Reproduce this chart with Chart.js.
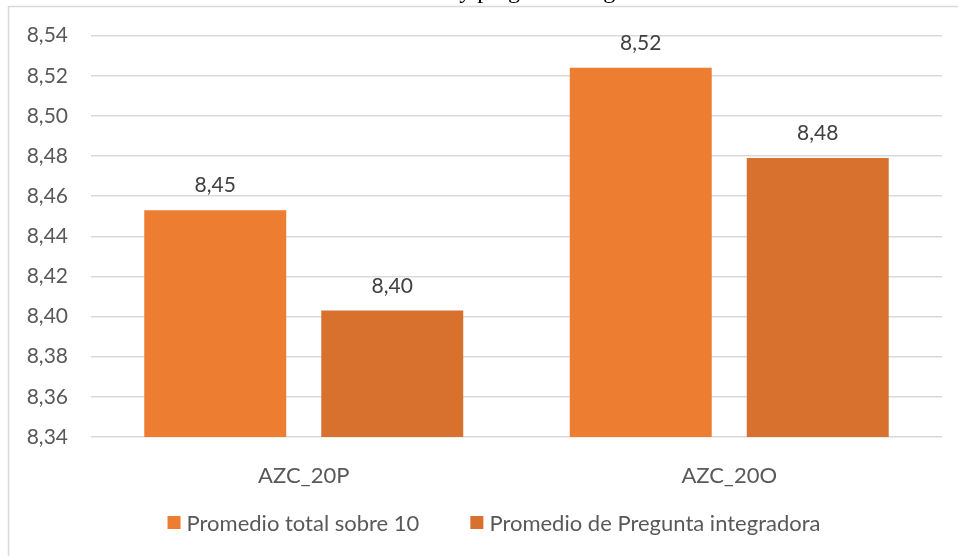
<!DOCTYPE html>
<html>
<head>
<meta charset="utf-8">
<script src="https://cdn.jsdelivr.net/npm/chart.js@4.4.0/dist/chart.umd.min.js"></script>
<style>
  html, body { margin:0; padding:0; background:#fff; }
  #wrap { position:relative; width:958px; height:556px; }
</style>
</head>
<body>
<div id="wrap"><canvas id="c" width="958" height="556"></canvas></div>
<script>
'use strict';

// ── Data ──────────────────────────────────────────────────────────────────────
var TITLE      = 'Promedio total y pregunta integradora';
var categories = ['AZC_20P', 'AZC_20O'];
var seriesNames = ['Promedio total sobre 10', 'Promedio de Pregunta integradora'];
var promTotal  = [8.453, 8.524];
var promPreg   = [8.403, 8.479];
var yMin = 8.34, yMax = 8.54, yStep = 0.02;

var COLORS = ['#ED7D31', '#D8712D'];
var FONT   = 'Lato, "Noto Sans", sans-serif';

function fmt(v) { return v.toFixed(2).replace('.', ','); }

// ── Frame, title, value labels, legend ───────────────────────────────────────
var decor = {
  id: 'decor',
  beforeDraw: function(chart) {
    var ctx = chart.ctx;
    ctx.save();
    ctx.strokeStyle = '#d9d9d9'; ctx.lineWidth = 1.5;
    ctx.strokeRect(8.5, 6.5, 1100, 700);
    // title sits mostly above the visible crop
    ctx.fillStyle = '#000';
    ctx.font = '24px "Liberation Serif", serif';
    ctx.textAlign = 'center'; ctx.textBaseline = 'alphabetic';
    ctx.fillText(TITLE, 494, -2);
    ctx.restore();
  },
  afterDatasetsDraw: function(chart) {
    var ctx = chart.ctx;
    ctx.save();
    ctx.font = '21px ' + FONT;
    ctx.fillStyle = '#404040';
    ctx.textAlign = 'center'; ctx.textBaseline = 'alphabetic';
    chart.data.datasets.forEach(function(ds, i) {
      chart.getDatasetMeta(i).data.forEach(function(bar, j) {
        ctx.fillText(fmt(ds.data[j]), bar.x, bar.y - 18);
      });
    });
    ctx.restore();
  },
  afterDraw: function(chart) {
    var ctx = chart.ctx;
    ctx.save();
    ctx.font = '22px ' + FONT;
    var box = 13, gap = 6, sep = 51;
    var items = chart.data.datasets.map(function(ds) {
      return { label: ds.label, color: ds.backgroundColor, w: box + gap + ctx.measureText(ds.label).width };
    });
    var total = items.reduce(function(a, it) { return a + it.w; }, 0) + sep * (items.length - 1);
    var x = 494 - total / 2, cy = 522.5;
    ctx.textBaseline = 'middle'; ctx.textAlign = 'left';
    items.forEach(function(it) {
      ctx.fillStyle = it.color;
      ctx.fillRect(x, cy - box / 2, box, box);
      ctx.fillStyle = '#595959';
      ctx.fillText(it.label, x + box + gap, cy + 1);
      x += it.w + sep;
    });
    ctx.restore();
  }
};

new Chart(document.getElementById('c'), {
  type: 'bar',
  data: {
    labels: categories,
    datasets: [
      { label: seriesNames[0], data: promTotal, backgroundColor: COLORS[0], categoryPercentage: 0.832, barPercentage: 0.802 },
      { label: seriesNames[1], data: promPreg,  backgroundColor: COLORS[1], categoryPercentage: 0.832, barPercentage: 0.802 }
    ]
  },
  options: {
    responsive: false, animation: false,
    layout: { padding: { left: 0, right: 16, top: 35, bottom: 0 } },
    plugins: { legend: { display: false }, tooltip: { enabled: false } },
    scales: {
      x: {
        grid: { display: false }, border: { display: false },
        ticks: { color: '#595959', font: { family: FONT, size: 22 }, padding: 18 },
        afterFit: function(s) { s.height = 119; }
      },
      y: {
        min: yMin, max: yMax,
        border: { display: false },
        grid: { color: '#d9d9d9', lineWidth: 1.5, drawTicks: false },
        ticks: { stepSize: yStep, color: '#595959', font: { family: FONT, size: 21 }, padding: 23,
                 callback: function(v) { return fmt(v); } },
        afterFit: function(s) { s.width = 91; }
      }
    }
  },
  plugins: [decor]
});
</script>
</body>
</html>
